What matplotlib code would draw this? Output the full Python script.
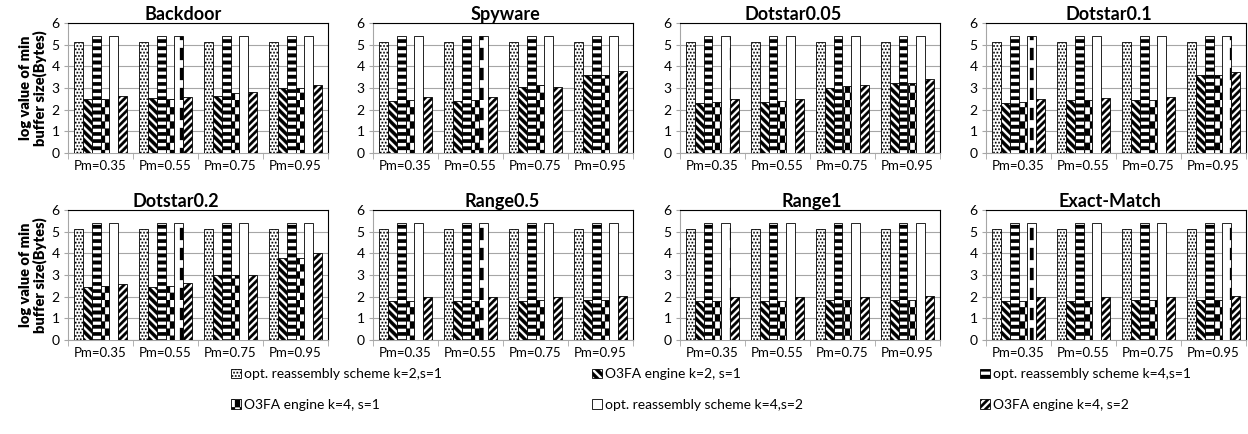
import numpy as np
import matplotlib
matplotlib.use('Agg')
import matplotlib.pyplot as plt
import matplotlib.hatch as mhatch
from matplotlib.path import Path
from matplotlib.patches import Patch

plt.rcParams['font.family'] = ['Lato', 'DejaVu Sans']
plt.rcParams['hatch.linewidth'] = 0.2
plt.rcParams['hatch.color'] = 'black'

# ---------------- data ----------------
titles = ['Backdoor', 'Spyware', 'Dotstar0.05', 'Dotstar0.1',
          'Dotstar0.2', 'Range0.5', 'Range1', 'Exact-Match']
categories = ['Pm=0.35', 'Pm=0.55', 'Pm=0.75', 'Pm=0.95']
series_labels = ['opt. reassembly scheme k=2,s=1', 'O3FA engine k=2, s=1',
                 'opt. reassembly scheme k=4,s=1', 'O3FA engine k=4, s=1',
                 'opt. reassembly scheme k=4,s=2', 'O3FA engine k=4, s=2']

opt_k2_s1 = [[5.12, 5.12, 5.12, 5.12]] * 8
o3fa_k2_s1 = [[2.50, 2.55, 2.65, 3.00],
              [2.40, 2.40, 3.05, 3.60],
              [2.30, 2.35, 3.00, 3.25],
              [2.30, 2.45, 2.45, 3.60],
              [2.45, 2.45, 3.00, 3.80],
              [1.80, 1.80, 1.80, 1.85],
              [1.80, 1.80, 1.85, 1.85],
              [1.80, 1.80, 1.85, 1.85]]
opt_k4_s1 = [[5.42, 5.42, 5.42, 5.42]] * 8
o3fa_k4_s1 = [[2.50, 2.50, 2.75, 3.00],
              [2.45, 2.45, 3.15, 3.60],
              [2.35, 2.40, 3.10, 3.25],
              [2.35, 2.45, 2.45, 3.60],
              [2.50, 2.50, 3.00, 3.80],
              [1.80, 1.80, 1.85, 1.85],
              [1.80, 1.80, 1.85, 1.85],
              [1.80, 1.80, 1.85, 1.85]]
opt_k4_s2 = [[5.42, 5.42, 5.42, 5.42]] * 8
o3fa_k4_s2 = [[2.65, 2.60, 2.80, 3.15],
              [2.60, 2.60, 3.05, 3.80],
              [2.50, 2.50, 3.15, 3.40],
              [2.50, 2.55, 2.60, 3.75],
              [2.60, 2.65, 3.00, 4.00],
              [2.00, 2.00, 2.00, 2.05],
              [2.00, 2.00, 2.00, 2.05],
              [2.00, 2.00, 2.00, 2.05]]

all_series = [opt_k2_s1, o3fa_k2_s1, opt_k4_s1, o3fa_k4_s1, opt_k4_s2, o3fa_k4_s2]
hatches = ['d', 'b', 'h', 'c', 'w', 's']

# ---------------- custom filled hatch patterns ----------------
mhatch._validate_hatch_pattern = lambda hatch: None


class _PolyHatch(mhatch.HatchPatternBase):
    key = None

    def __init__(self, hatch, density):
        self.polys = self.build() if (hatch and self.key in hatch) else []
        self.num_vertices = 5 * len(self.polys)

    def set_vertices_and_codes(self, vertices, codes):
        for i, poly in enumerate(self.polys):
            j = 5 * i
            vertices[j:j + 4] = poly
            vertices[j + 4] = poly[0]
            codes[j] = Path.MOVETO
            codes[j + 1:j + 4] = Path.LINETO
            codes[j + 4] = Path.CLOSEPOLY


class DotHatch(_PolyHatch):
    key = 'd'

    def build(self):
        n, s = 30, 0.014
        out = []
        for j in range(n):
            for i in range(n):
                x = (i + 0.5 * (j % 2)) / n
                y = j / n
                out.append([(x, y), (x + s, y), (x + s, y + s), (x, y + s)])
        return out


class HorizHatch(_PolyHatch):
    key = 'h'

    def build(self):
        n = 14
        w = 0.5 / n
        return [[(-0.1, k / n), (1.1, k / n), (1.1, k / n + w), (-0.1, k / n + w)]
                for k in range(n)]


class BackHatch(_PolyHatch):
    key = 'b'

    def build(self):
        n = 12
        w = 0.55 / n
        return [[(k / n, 1), (k / n + w, 1), (k / n + w + 1, 0), (k / n + 1, 0)]
                for k in range(-n - 1, n + 1)]


class SlashHatch(_PolyHatch):
    key = 's'

    def build(self):
        n = 14
        w = 0.5 / n
        return [[(k / n, 0), (k / n + w, 0), (k / n + w + 1, 1), (k / n + 1, 1)]
                for k in range(-n - 1, n + 1)]


class CheckHatch(_PolyHatch):
    key = 'c'

    def build(self):
        nx, ny = 20, 14
        out = []
        for i in range(nx):
            for j in range(ny):
                if (i + j) % 2 == 0:
                    x0, x1 = i / nx, (i + 1) / nx
                    y0, y1 = j / ny, (j + 1) / ny
                    out.append([(x0, y0), (x1, y0), (x1, y1), (x0, y1)])
        return out


class DashVHatch(_PolyHatch):
    key = 'w'

    def build(self):
        out = []
        for xc in (0.3, 0.8):
            for k in range(5):
                y0 = k * 0.2
                out.append([(xc, y0), (xc + 0.035, y0), (xc + 0.035, y0 + 0.12), (xc, y0 + 0.12)])
        return out


mhatch._hatch_types.extend([DotHatch, HorizHatch, BackHatch, SlashHatch,
                            CheckHatch, DashVHatch])

# ---------------- figure ----------------
W, H = 1248, 434
fig = plt.figure(figsize=(W / 100, H / 100), dpi=100)

lefts = [68, 373, 680, 986]
row_bottoms = [153, 340]
ax_w, ax_h = 260, 130
title_centers = [183, 505, 793, 1109, 176, 502, 812, 1110]

x = np.arange(len(categories))
bw = 0.137
grid_gray = '#a6a6a6'

for idx, title in enumerate(titles):
    r, c = divmod(idx, 4)
    ax = fig.add_axes([lefts[c] / W, (H - row_bottoms[r]) / H, ax_w / W, ax_h / H])
    for s, (series, hatch) in enumerate(zip(all_series, hatches)):
        ax.bar(x + (s - 2.5) * bw, series[idx], width=bw, facecolor='white',
               edgecolor='black', linewidth=0.6, hatch=hatch, zorder=3)
    ax.set_xlim(-0.5, len(categories) - 0.5)
    ax.set_ylim(0, 6)
    ax.set_yticks(range(0, 7))
    ax.set_xticks(x)
    ax.set_xticklabels(categories, fontsize=9.5)
    ax.tick_params(axis='x', length=0, pad=5)
    ax.set_xticks(np.arange(-0.5, len(categories)), minor=True)
    ax.tick_params(axis='x', which='minor', length=4, color=grid_gray, direction='out')
    ax.tick_params(axis='y', length=3, color=grid_gray, labelsize=10, pad=3)
    ax.grid(axis='y', color=grid_gray, linewidth=0.8, zorder=0)
    ax.set_axisbelow(True)
    for side in ('top', 'right'):
        ax.spines[side].set_color('black')
        ax.spines[side].set_linewidth(0.8)
    for side in ('left', 'bottom'):
        ax.spines[side].set_color(grid_gray)
        ax.spines[side].set_linewidth(0.8)
    ax.set_title(title, fontsize=13, fontweight='bold', pad=1,
                 x=(title_centers[idx] - lefts[c]) / ax_w)
    if c == 0:
        ax.set_ylabel('log value of min\nbuffer size(Bytes)', fontsize=10.5,
                      fontweight='heavy', labelpad=3, linespacing=1.05)

# ---------------- legend ----------------
handles = [Patch(facecolor='white', edgecolor='black', linewidth=0.6, hatch=h)
           for h in hatches]
legend_cols = [(231, [0, 3]), (592, [1, 4]), (980, [2, 5])]
for xpos, ids in legend_cols:
    fig.legend([handles[i] for i in ids], [series_labels[i] for i in ids],
               loc='center left', bbox_to_anchor=(xpos / W, 1 - 389.5 / H),
               frameon=False, fontsize=10, handlelength=0.7, handleheight=0.7,
               handletextpad=0.25, labelspacing=1.3, borderpad=0, borderaxespad=0)

fig.savefig('out.png', dpi=100)
